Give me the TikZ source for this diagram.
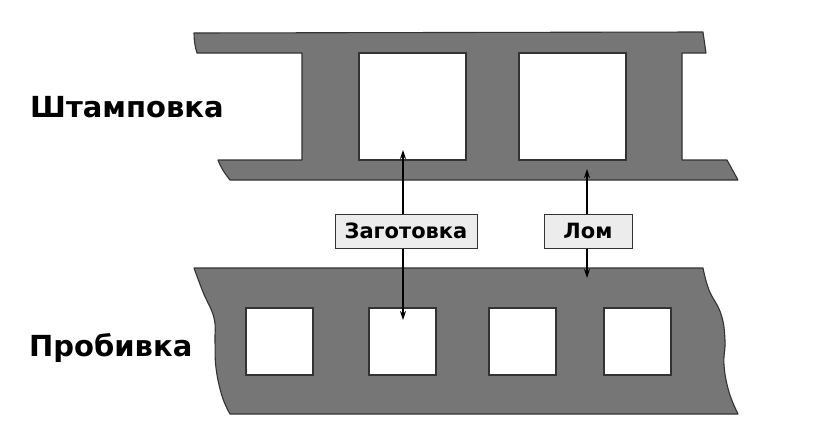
\documentclass[tikz,border=0pt]{standalone}
\usepackage{fontspec}
\setmainfont{DejaVu Sans}
\usetikzlibrary{arrows.meta}
\definecolor{stripgray}{HTML}{767676}
\definecolor{edgegray}{HTML}{333333}
\definecolor{boxgray}{HTML}{ECECEC}
\tikzset{
  strip/.style={fill=stripgray, draw=edgegray, line width=1.1pt, line join=round},
  hole/.style={fill=white, draw=edgegray, line width=1.1pt},
  tag/.style={draw=edgegray, fill=boxgray, line width=1pt, minimum height=34pt, inner sep=0pt, font=\fontsize{21}{24}\selectfont\bfseries},
  title/.style={anchor=base west, inner sep=0pt, font=\fontsize{29}{34}\selectfont\bfseries},
  arr/.style={line width=1.3pt, -{Stealth[length=9pt,width=6pt]}}
}
\begin{document}
\begin{tikzpicture}[x=1pt,y=-1pt]
\useasboundingbox (0,0) rectangle (820,439);
% upper strip (stamping)
\draw[strip] (194,33) -- (703,32) -- (706,53) -- (682,53) -- (682,160) -- (727,160) -- (738,180)
  -- (230,180) .. controls (225,174) and (220,166) .. (218,160) -- (302,160) -- (302,53) -- (197,53)
  .. controls (195,47) and (194,40) .. cycle;
\node[hole, minimum width=107pt, minimum height=107pt, inner sep=0pt] (w1) at (412.5,106.5) {};
\node[hole, minimum width=107pt, minimum height=107pt, inner sep=0pt] (w2) at (572.5,106.5) {};
% lower strip (punching)
\draw[strip] (194,268) -- (703,268)
  -- plot[smooth, tension=0.7] coordinates {(703,268) (709,290) (721,314) (725,340) (724,365) (729,392) (738,414)}
  -- (230,414)
  -- plot[smooth, tension=0.7] coordinates {(230,414) (222,396) (216,368) (215,342) (214,318) (203,292) (194,268)}
  -- cycle;
\node[hole, minimum width=67pt, minimum height=67pt, inner sep=0pt] (s1) at (279.5,341.5) {};
\node[hole, minimum width=67pt, minimum height=67pt, inner sep=0pt] (s2) at (402.5,341.5) {};
\node[hole, minimum width=67pt, minimum height=67pt, inner sep=0pt] (s3) at (522.5,341.5) {};
\node[hole, minimum width=67pt, minimum height=67pt, inner sep=0pt] (s4) at (637.5,341.5) {};
% titles
\node[title] (t1) at (30,117) {Штамповка};
\node[title] (t2) at (29,356) {Пробивка};
% labels
\node[tag, minimum width=142pt] (zag) at (406,231) {Заготовка};
\node[tag, minimum width=88pt] (lom) at (588,231) {Лом};
\coordinate (a1t) at (403,150);
\coordinate (a1b) at (403,320);
\coordinate (a2t) at (587,169);
\coordinate (a2b) at (587,278);
\draw[arr] (zag.north -| a1t) -- (a1t);
\draw[arr] (zag.south -| a1b) -- (a1b);
\draw[arr] (lom.north -| a2t) -- (a2t);
\draw[arr] (lom.south -| a2b) -- (a2b);
\end{tikzpicture}
\end{document}
